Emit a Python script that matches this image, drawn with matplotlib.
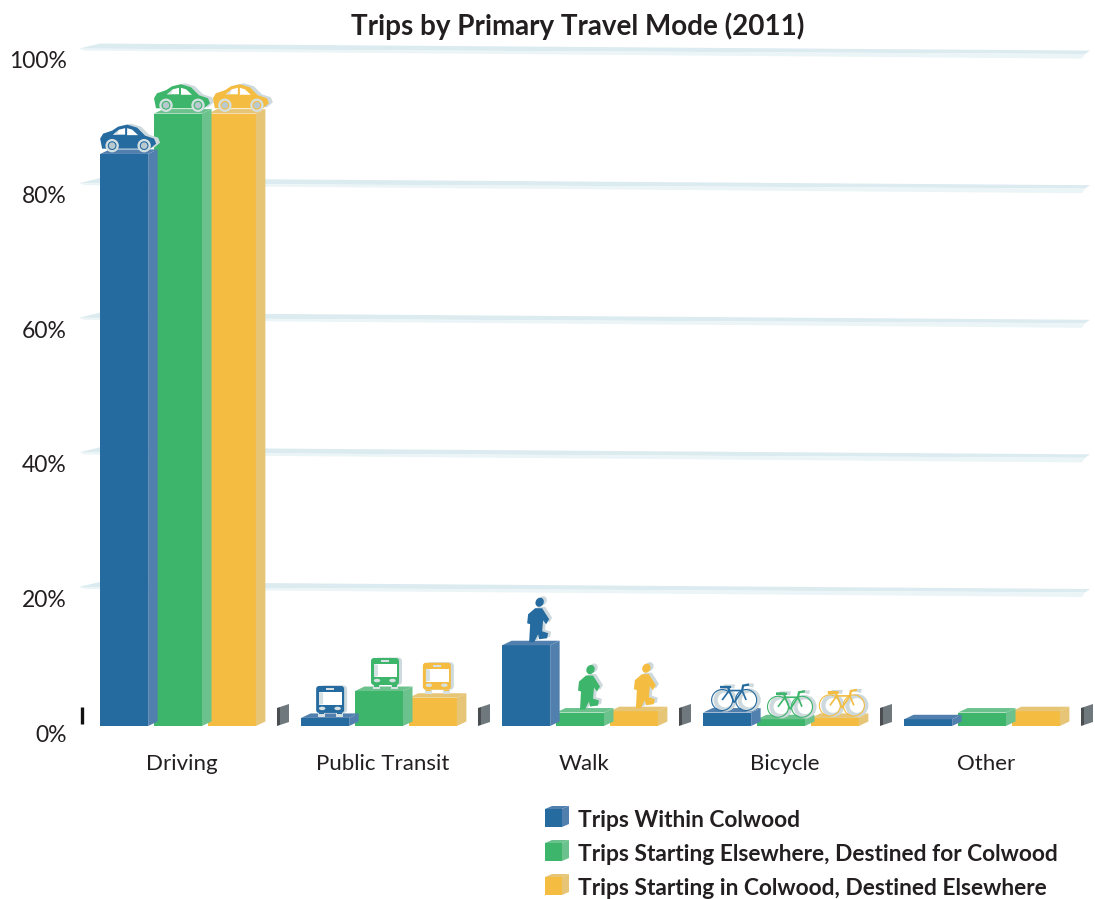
import numpy as np
import matplotlib
matplotlib.use('Agg')
import matplotlib.pyplot as plt
from matplotlib.patches import Polygon, Circle, Ellipse, FancyBboxPatch
from matplotlib.transforms import Affine2D, ScaledTranslation

plt.rcParams['font.family'] = ['Lato', 'DejaVu Sans']

modes = ['Driving', 'Public Transit', 'Walk', 'Bicycle', 'Other']
within = [85, 1.2, 12, 2, 1]
inbound = [91, 5.2, 2, 1, 2]
outbound = [91, 4.2, 2.2, 1.2, 2.2]
y_ticks = [0, 20, 40, 60, 80, 100]
y_tick_labels = ['0%', '20%', '40%', '60%', '80%', '100%']
series_names = ['Trips Within Colwood',
                'Trips Starting Elsewhere, Destined for Colwood',
                'Trips Starting in Colwood, Destined Elsewhere']
front_colors = ['#266ba0', '#3db56a', '#f4bd41']
side_colors = ['#5180af', '#6cc28d', '#e6c576']
ink = '#231f20'
shadow = '#cdd9dc'
icon_light = '#d5e0e2'

W, H = 1095, 899
X0, DX = 178.0, 201.0      # pixel of first group centre, pixels per group
Y0, DY = 726.0, 6.73       # baseline pixel, pixels per percent
AX_L, AX_T = 75.0, 40.0

fig = plt.figure(figsize=(W / 100, H / 100), dpi=100)
ax = fig.add_axes([AX_L / W, 1 - Y0 / H, (W - AX_L) / W, (Y0 - AX_T) / H])
ax.set_xlim((AX_L - X0) / DX, (W - X0) / DX)
ax.set_ylim(0, (Y0 - AX_T) / DY)
for s in ax.spines.values():
    s.set_visible(False)

px = 1 / DX
py = 1 / DY
depth_x, depth_y = 9.5 * px, 4.5 * py
bar_w = 48 * px
offsets = [-0.268, 0.0, 0.268]


def box(x, v, i):
    z = 5 - i * 0.5
    ax.bar(x, v, bar_w, color=front_colors[i], zorder=z, clip_on=False)
    l, r = x - bar_w / 2, x + bar_w / 2
    ax.add_patch(Polygon([(r, 0), (r + depth_x, depth_y), (r + depth_x, v + depth_y), (r, v)],
                         fc=side_colors[i], ec='none', zorder=z))
    ax.add_patch(Polygon([(l, v), (r, v), (r + depth_x, v + depth_y), (l + depth_x, v + depth_y)],
                         fc=side_colors[i], ec='none', zorder=z))


def place(x, v):
    # icon space: pixels, origin at left end of the bar top
    a = ax.transData.transform((x - bar_w / 2, v))
    return Affine2D().translate(a[0], a[1])


def add(p, tr, z):
    p.set_transform(tr)
    p.set_clip_on(False)
    p.set_zorder(z)
    ax.add_patch(p)


def car(x, v, i):
    tr = place(x, v) + Affine2D().translate([0, 0, 5][i], 3.3)
    body = [(2, 2), (0, 12), (3, 17), (12, 20), (18, 24), (27, 26), (37, 23), (45, 15),
            (54, 12), (56, 7), (50, 2)]
    add(Polygon(body, fc=shadow, ec='none'), tr + Affine2D().translate(4, 1), 8)
    add(Polygon(body, fc=front_colors[i], ec='none'), tr, 9)
    add(Polygon([(13, 16), (19, 21), (25, 22.5), (25, 16)], fc='white', ec='none'), tr, 10)
    add(Polygon([(13, 16), (19, 21), (17, 16)], fc=icon_light, ec='none'), tr, 11)
    add(Polygon([(27, 15.5), (27, 22.5), (32, 21), (38, 15.5)], fc='white', ec='none'), tr, 10)
    for wx in (12, 44):
        add(Circle((wx, 5), 6.7, fc=icon_light, ec='none'), tr, 10)
        add(Circle((wx, 5), 4.4, fc=front_colors[i], ec='none'), tr, 11)
        add(Circle((wx, 5), 3.3, fc='#b9c9d0', ec='none'), tr, 12)


def bus(x, v, i):
    tr = place(x, v) + Affine2D().translate([15, 16, 14][i], [1, 2, 4][i])
    add(FancyBboxPatch((4, 4), 27, 27.5, boxstyle='round,pad=0,rounding_size=4', fc=shadow, ec='none'), tr, 8)
    add(FancyBboxPatch((0, 4), 28, 27, boxstyle='round,pad=0,rounding_size=3', fc=front_colors[i], ec='none'), tr, 9)
    add(Polygon([(3, 12), (26, 12), (26, 25), (3, 25)], fc='white', ec='none'), tr, 10)
    add(Polygon([(3, 12), (7, 13), (7, 24), (3, 25)], fc=icon_light, ec='none'), tr, 11)
    add(Polygon([(10, 27), (18, 27), (18, 29), (10, 29)], fc=icon_light, ec='none'), tr, 10)
    for hx in (6, 21.5):
        add(Ellipse((hx, 8.5), 6.5, 3.5, fc=icon_light, ec='none'), tr, 10)
    for wx in (2, 20):
        add(Polygon([(wx, 0), (wx + 7, 0), (wx + 7, 5), (wx, 5)], fc=icon_light, ec='none'), tr, 8.5)
        add(Polygon([(wx + 1, 2.5), (wx + 6, 2.5), (wx + 6, 4), (wx + 1, 4)], fc=front_colors[i], ec='none'), tr, 9.5)


def walker(x, v, i):
    tr = place(x, v) + Affine2D().translate([25, 22, 24][i], 2)
    body = [(8, 35), (15, 35), (22, 24), (19, 19), (16, 23), (15, 12), (21, 10), (20, 5), (12, 4),
            (11, 9), (7, 1), (2, 1), (3, 19), (0, 20), (1, 29)]
    sh = tr + Affine2D().translate(3, 1.5)
    add(Polygon(body, fc=shadow, ec='none'), sh, 8)
    add(Ellipse((12.5, 41), 8, 9.5, angle=-30, fc=shadow, ec='none'), sh, 8)
    add(Polygon(body, fc=front_colors[i], ec='none'), tr, 9)
    add(Ellipse((12.5, 41), 8, 9.5, angle=-30, fc=front_colors[i], ec='none'), tr, 9)


def bike(x, v, i):
    tr = place(x, v) + Affine2D().translate([8, 10, 8][i], 2)
    c = front_colors[i]
    for wx in (11, 35):
        add(Circle((wx + 3, 10.5), 9.5, fc='none', ec=shadow, lw=3), tr, 8)
        add(Circle((wx, 10.5), 10.5, fc='none', ec=c, lw=0.8), tr, 9)
    frame = [(11, 10.5), (18, 20), (31, 20), (23, 8), (11, 10.5)]
    add(Polygon(frame, closed=False, fc='none', ec=c, lw=1.2), tr, 10)
    add(Polygon([(18, 20), (23, 8)], closed=False, fc='none', ec=c, lw=1.2), tr, 10)
    add(Polygon([(31, 20), (35, 10.5)], closed=False, fc='none', ec=c, lw=1.2), tr, 10)
    add(Polygon([(31, 20), (32, 25), (38, 26)], closed=False, fc='none', ec=c, lw=1.6), tr, 10)
    add(Polygon([(18, 20), (17, 23.5), (9, 23.5), (20, 23.5)], closed=False, fc='none', ec=c, lw=1.6), tr, 10)
    add(Polygon([(34, 25), (35, 27), (43, 27), (42, 23)], fc=shadow, ec='none'), tr, 8)
    add(Polygon([(12, 24), (13, 26), (24, 26), (23, 22)], fc=shadow, ec='none'), tr, 8)


# gridlines as thin raised bands
gl, gr = (79 - X0) / DX, (1090 - X0) / DX
for t in y_ticks[1:]:
    ax.fill([gl, gl + 21 * px, gr, gr - 5 * px],
            [t + 4.4 * py, t + 9.5 * py, t + 2.4 * py, t - 1 * py],
            color='#dbebef', lw=0, zorder=1, clip_on=False)
    ax.fill([gl, gr - 5 * px, gr - 8 * px, gl + 6 * px],
            [t + 4.4 * py, t - 1 * py, t - 5.6 * py, t + 2.4 * py],
            color='#ebf4f6', lw=0, zorder=1, clip_on=False)

for g, mode in enumerate(modes):
    vals = [within[g], inbound[g], outbound[g]]
    for i in range(3):
        x = g + offsets[i]
        box(x, vals[i], i)
        if g == 0:
            car(x, vals[i], i)
        elif g == 1:
            bus(x, vals[i], i)
        elif g == 2:
            walker(x, vals[i], i)
        elif g == 3:
            bike(x, vals[i], i)
    # little grey divider after each group
    sx = g + 0.4925
    ax.fill([sx, sx + 3 * px, sx + 3 * px, sx], [0, 1 * py, 19 * py, 18 * py], color='#4a4d4f', lw=0, zorder=2, clip_on=False)
    ax.fill([sx + 3 * px, sx + 12 * px, sx + 12 * px, sx + 3 * px], [1 * py, 4 * py, 22 * py, 19 * py], color='#6f787c', lw=0, zorder=2, clip_on=False)

ax.plot([(82 - X0) * px] * 2, [2 * py, 19 * py], color='#111111', lw=2.4, solid_capstyle='butt', clip_on=False)

ax.set_xticks([g + 0.02 for g in range(len(modes))], modes)
ax.set_yticks(y_ticks, y_tick_labels)
ax.tick_params(axis='y', length=0, labelsize=16.5, labelcolor=ink, pad=6)
ax.tick_params(axis='x', length=0, labelsize=16, labelcolor=ink, pad=20)
shift = ScaledTranslation(0, -7 / 100, fig.dpi_scale_trans)
for lab in ax.get_yticklabels():
    lab.set_transform(lab.get_transform() + shift)

fig.text(578 / W, 1 - 26 / H, 'Trips by Primary Travel Mode (2011)', ha='center', va='center',
         fontsize=20, fontweight='bold', color=ink)

# legend with small cubes, in figure pixels
leg = fig.add_axes([0, 0, 1, 1], facecolor='none')
leg.set_xlim(0, W)
leg.set_ylim(H, 0)
leg.axis('off')
for i, name in enumerate(series_names):
    yc = 819 + i * 34
    leg.add_patch(Polygon([(545, yc - 10), (562, yc - 10), (562, yc + 8), (545, yc + 8)], fc=front_colors[i], ec='none'))
    leg.add_patch(Polygon([(562, yc - 10), (569, yc - 13), (569, yc + 5), (562, yc + 8)], fc=side_colors[i], ec='none'))
    leg.add_patch(Polygon([(545, yc - 10), (552, yc - 13), (569, yc - 13), (562, yc - 10)], fc=side_colors[i], ec='none'))
    leg.text(578, yc + 1.5, name, ha='left', va='center', fontsize=16.4, fontweight='bold', color=ink)

fig.savefig('out.png', dpi=100)
